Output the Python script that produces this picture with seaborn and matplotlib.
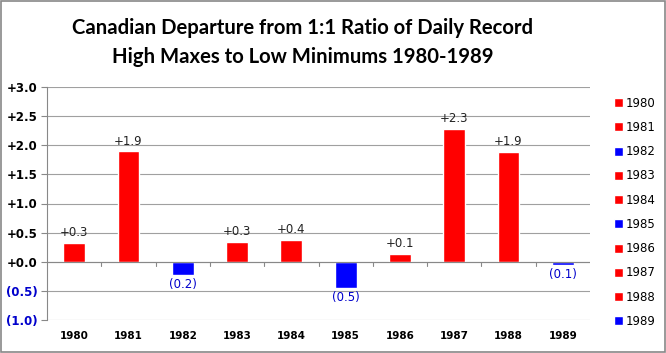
import matplotlib
matplotlib.use("Agg")
import matplotlib.pyplot as plt
import seaborn as sns
import pandas as pd
from matplotlib.ticker import FixedLocator
from matplotlib.patches import Rectangle

years = ["1980", "1981", "1982", "1983", "1984", "1985", "1986", "1987", "1988", "1989"]
values = [0.33, 1.90, -0.22, 0.34, 0.38, -0.45, 0.14, 2.28, 1.89, -0.05]
labels = ["+0.3", "+1.9", "(0.2)", "+0.3", "+0.4", "(0.5)", "+0.1", "+2.3", "+1.9", "(0.1)"]
yticks = [3.0, 2.5, 2.0, 1.5, 1.0, 0.5, 0.0, -0.5, -1.0]
ytick_labels = ["+3.0", "+2.5", "+2.0", "+1.5", "+1.0", "+0.5", "+0.0", "(0.5)", "(1.0)"]

df = pd.DataFrame({"year": years, "value": values})
palette = {y: ("#FF0000" if v >= 0 else "#0000FF") for y, v in zip(years, values)}

sns.set_style("white")
plt.rcParams["text.color"] = "black"
fig = plt.figure(figsize=(6.66, 3.53), dpi=100)
ax = fig.add_axes([47/666, 1 - 320/353, (590-47)/666, (320-87)/353])

sns.barplot(data=df, x="year", y="value", hue="year", palette=palette,
            dodge=False, width=0.4, saturation=1, ax=ax, legend=True)

ax.set_ylim(-1.0, 3.0)
ax.set_xlim(-0.5, 9.5)
ax.yaxis.set_major_locator(FixedLocator(yticks))
ax.set_yticklabels(ytick_labels)
for t, v in zip(ax.get_yticklabels(), yticks):
    t.set_color("#0000CC" if v < 0 else "black")
    t.set_fontweight("bold")
    t.set_fontsize(8.5)
ax.grid(axis="y", color="#A0A0A0", linewidth=0.8)
ax.set_axisbelow(True)
for s in ["top", "right", "bottom"]:
    ax.spines[s].set_visible(False)
ax.spines["left"].set_color("#888888")
ax.axhline(0, color="#888888", linewidth=0.8, zorder=1)
for i in range(1, 10):
    ax.plot([i - 0.5, i - 0.5], [0, -0.07], color="#888888", linewidth=0.8, clip_on=False)
ax.tick_params(axis="y", length=4, color="#888888", direction="out", left=True, pad=3)
ax.tick_params(axis="x", length=0, pad=8)
ax.set_xlabel("")
ax.set_ylabel("")
for t in ax.get_xticklabels():
    t.set_fontweight("bold")
    t.set_fontsize(7.5)
    t.set_color("black")

for i, (v, lab) in enumerate(zip(values, labels)):
    if v >= 0:
        ax.text(i, v + 0.06, lab, ha="center", va="bottom", fontsize=8.5, color="#222222")
    else:
        ax.text(i, v - 0.06, lab, ha="center", va="top", fontsize=8.5, color="#0000CC")

leg = ax.legend(loc="upper left", bbox_to_anchor=(1.035, 0.978), frameon=False,
                handlelength=0.8, handleheight=0.8, handletextpad=0.25,
                labelspacing=0.95, fontsize=8.5, borderaxespad=0)

tx = 303 / 666
fig.text(tx, 1 - 28/353, "Canadian Departure from 1:1 Ratio of Daily Record", ha="center",
         va="center", fontsize=14.6, fontweight="bold", family="Lato", color="black")
fig.text(tx, 1 - 57/353, "High Maxes to Low Minimums 1980-1989", ha="center",
         va="center", fontsize=14.6, fontweight="bold", family="Lato", color="black")

fig.patches.append(Rectangle((0.001, 0.002), 0.997, 0.996, transform=fig.transFigure,
                             fill=False, edgecolor="#888888", linewidth=1.2))

fig.savefig("out.png", dpi=100)
